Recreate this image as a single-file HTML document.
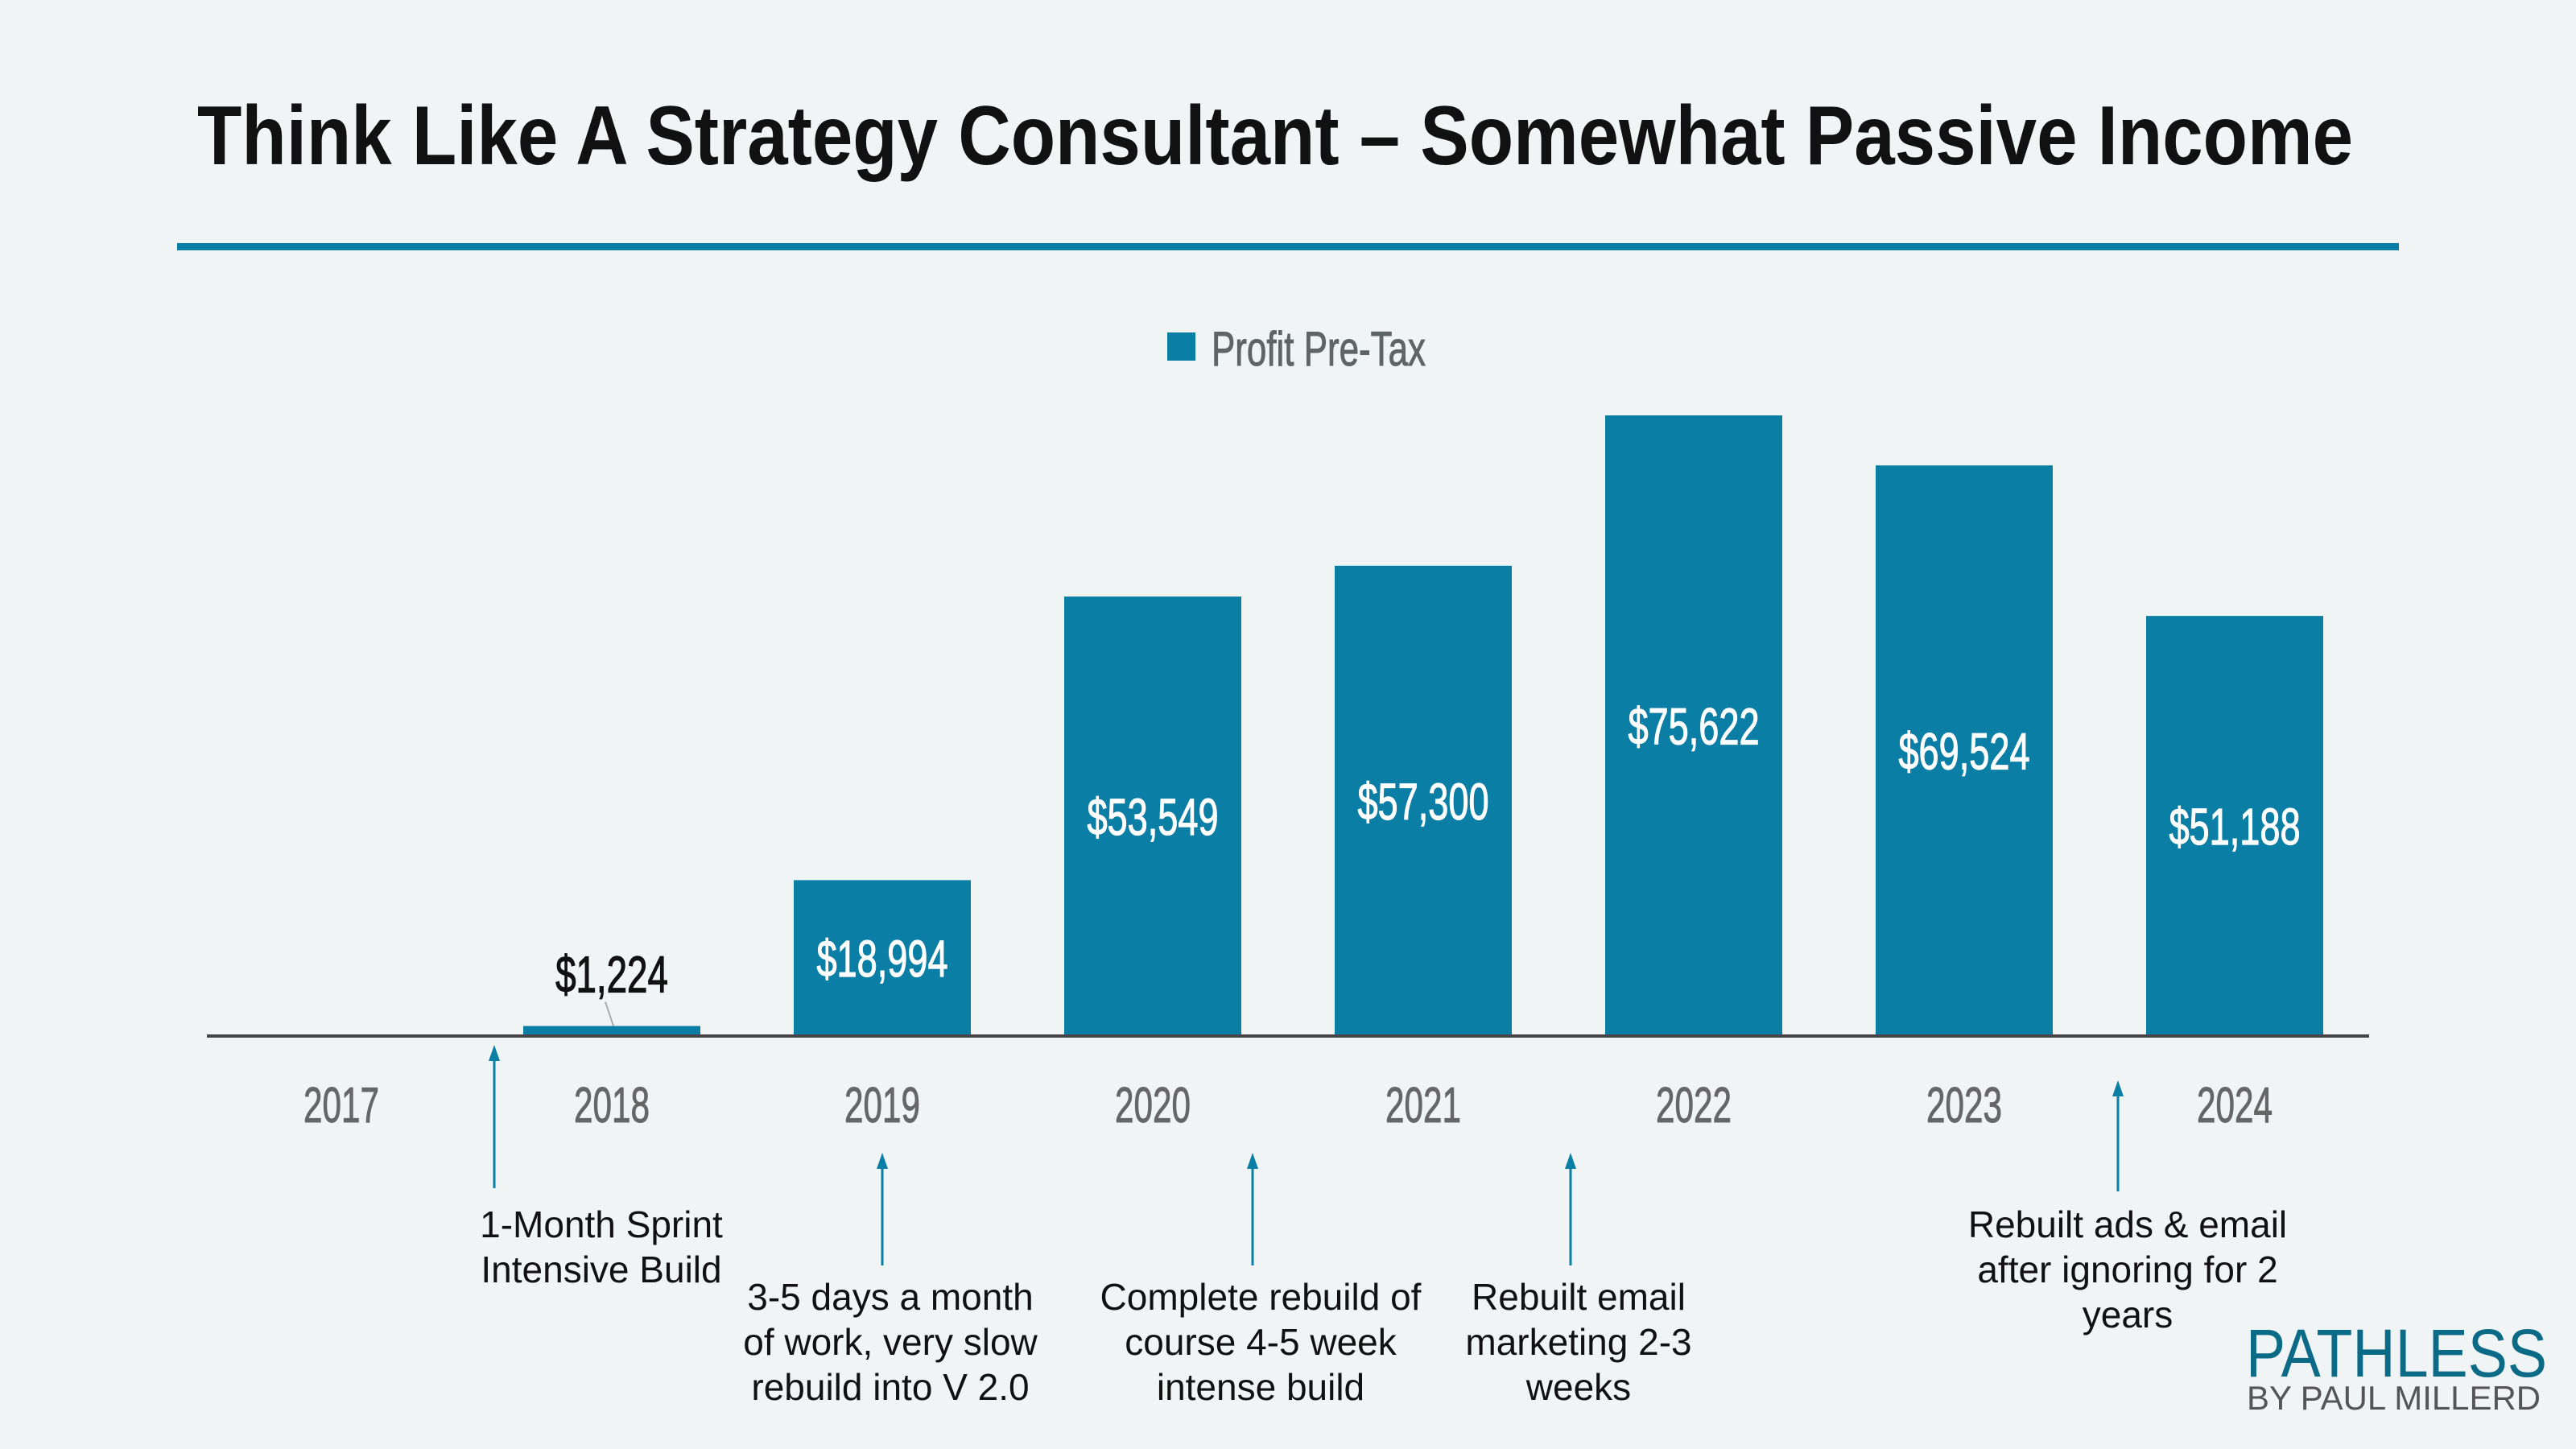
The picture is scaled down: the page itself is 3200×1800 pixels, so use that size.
<!DOCTYPE html>
<html><head><meta charset="utf-8"><style>
html,body{margin:0;padding:0;background:#f0f4f5;}
svg{display:block;}
</style></head><body>
<svg id="chart" width="3200" height="1800" viewBox="0 0 3200 1800" xmlns="http://www.w3.org/2000/svg">
<rect width="3200" height="1800" fill="#f0f4f5"/>
<text x="245" y="204" font-family="Liberation Sans, sans-serif" font-weight="bold" font-size="104" fill="#111" textLength="2678" lengthAdjust="spacingAndGlyphs">Think Like A Strategy Consultant – Somewhat Passive Income</text>
<rect x="220" y="302" width="2760" height="9" fill="#0a7ea4"/>
<rect x="1450" y="413" width="35" height="35" fill="#0a7ea4"/>
<text x="1505" y="454" font-family="Liberation Sans, sans-serif" font-size="60" fill="#5f6466" stroke="#5f6466" stroke-width="1" textLength="266" lengthAdjust="spacingAndGlyphs">Profit Pre-Tax</text>
<g id="bars"></g>
<line x1="257" y1="1287" x2="2943" y2="1287" stroke="#444" stroke-width="4"/>
<g id="annots"></g>
<text x="2790" y="1710" font-family="Liberation Sans, sans-serif" font-size="84" fill="#0b6a86" textLength="374" lengthAdjust="spacingAndGlyphs">PATHLESS</text>
<text x="2791" y="1751" font-family="Liberation Sans, sans-serif" font-size="42" fill="#555" textLength="365" lengthAdjust="spacingAndGlyphs">BY PAUL MILLERD</text>
</svg>
<script>
const years = ["2017","2018","2019","2020","2021","2022","2023","2024"];
const profits = [0,1224,18994,53549,57300,75622,69524,51188];
const valueLabels = ["","$1,224","$18,994","$53,549","$57,300","$75,622","$69,524","$51,188"];
const annotTexts = [
 ["1-Month Sprint","Intensive Build"],
 ["3-5 days a month","of work, very slow","rebuild into V 2.0"],
 ["Complete rebuild of","course 4-5 week","intense build"],
 ["Rebuilt email","marketing 2-3","weeks"],
 ["Rebuilt ads & email","after ignoring for 2","years"]
];
const NS="http://www.w3.org/2000/svg";
const baseY=1287, maxV=75622, plotH=771;
const x0=424, step=336, bw=220;
function xs(i){return x0+i*step;}
function ys(v){return baseY - v/maxV*plotH;}
function mk(tag,attrs,parent){const e=document.createElementNS(NS,tag);for(const k in attrs)e.setAttribute(k,attrs[k]);parent.appendChild(e);return e;}
const bars=document.getElementById('bars');
years.forEach((yr,i)=>{
  const cx=xs(i), top=ys(profits[i]);
  if(profits[i]>0){
    const r=mk('rect',{x:cx-bw/2,y:top,width:bw,height:baseY-top,fill:'#0a7ea4'},bars);
    
    
  }
  const t=mk('text',{x:cx,y:1394,'text-anchor':'middle','font-family':'Liberation Sans, sans-serif','font-size':62,fill:'#666',stroke:'#666','stroke-width':1,textLength:94,lengthAdjust:'spacingAndGlyphs'},bars);
  t.textContent=yr;
  
  
  if(valueLabels[i]){
    const inside=(baseY-top)>150;
    const ly=inside?(top+baseY)/2+23:top-42;
    const col=inside?'#fff':'#111';
    const v=mk('text',{x:cx,y:ly,'text-anchor':'middle','font-family':'Liberation Sans, sans-serif','font-size':64,fill:col,stroke:col,'stroke-width':1.2,textLength:valueLabels[i].length*23.3,lengthAdjust:'spacingAndGlyphs'},bars);
    v.textContent=valueLabels[i];
    
    
    if(!inside){
      const l=mk('line',{x1:cx-8,y1:top-30,x2:cx+2,y2:top,stroke:'#aaa','stroke-width':2},bars);
      
      
    }
  }
});
const an=document.getElementById('annots');
const arrowX=[614,1096,1556,1951,2631];
const arrowTop=[1298,1432,1432,1432,1342];
const arrowBot=[1476,1572,1572,1572,1480];
const textCx=[747,1106,1566,1961,2643];
const textY0=[1537,1627,1627,1627,1537];
annotTexts.forEach((lines,k)=>{
  const ax=arrowX[k];
  const l=mk('line',{x1:ax,y1:arrowTop[k]+16,x2:ax,y2:arrowBot[k],stroke:'#0a7ea4','stroke-width':3},an);
  
  
  const p=mk('polygon',{points:`${ax},${arrowTop[k]} ${ax-7},${arrowTop[k]+20} ${ax+7},${arrowTop[k]+20}`,fill:'#0a7ea4'},an);
  
  
  lines.forEach((s,j)=>{
    const t=mk('text',{x:textCx[k],y:textY0[k]+j*56,'text-anchor':'middle','font-family':'Liberation Sans, sans-serif','font-size':46,fill:'#111'},an);
    t.textContent=s;
    
    
  });
});
</script>
</body></html>
